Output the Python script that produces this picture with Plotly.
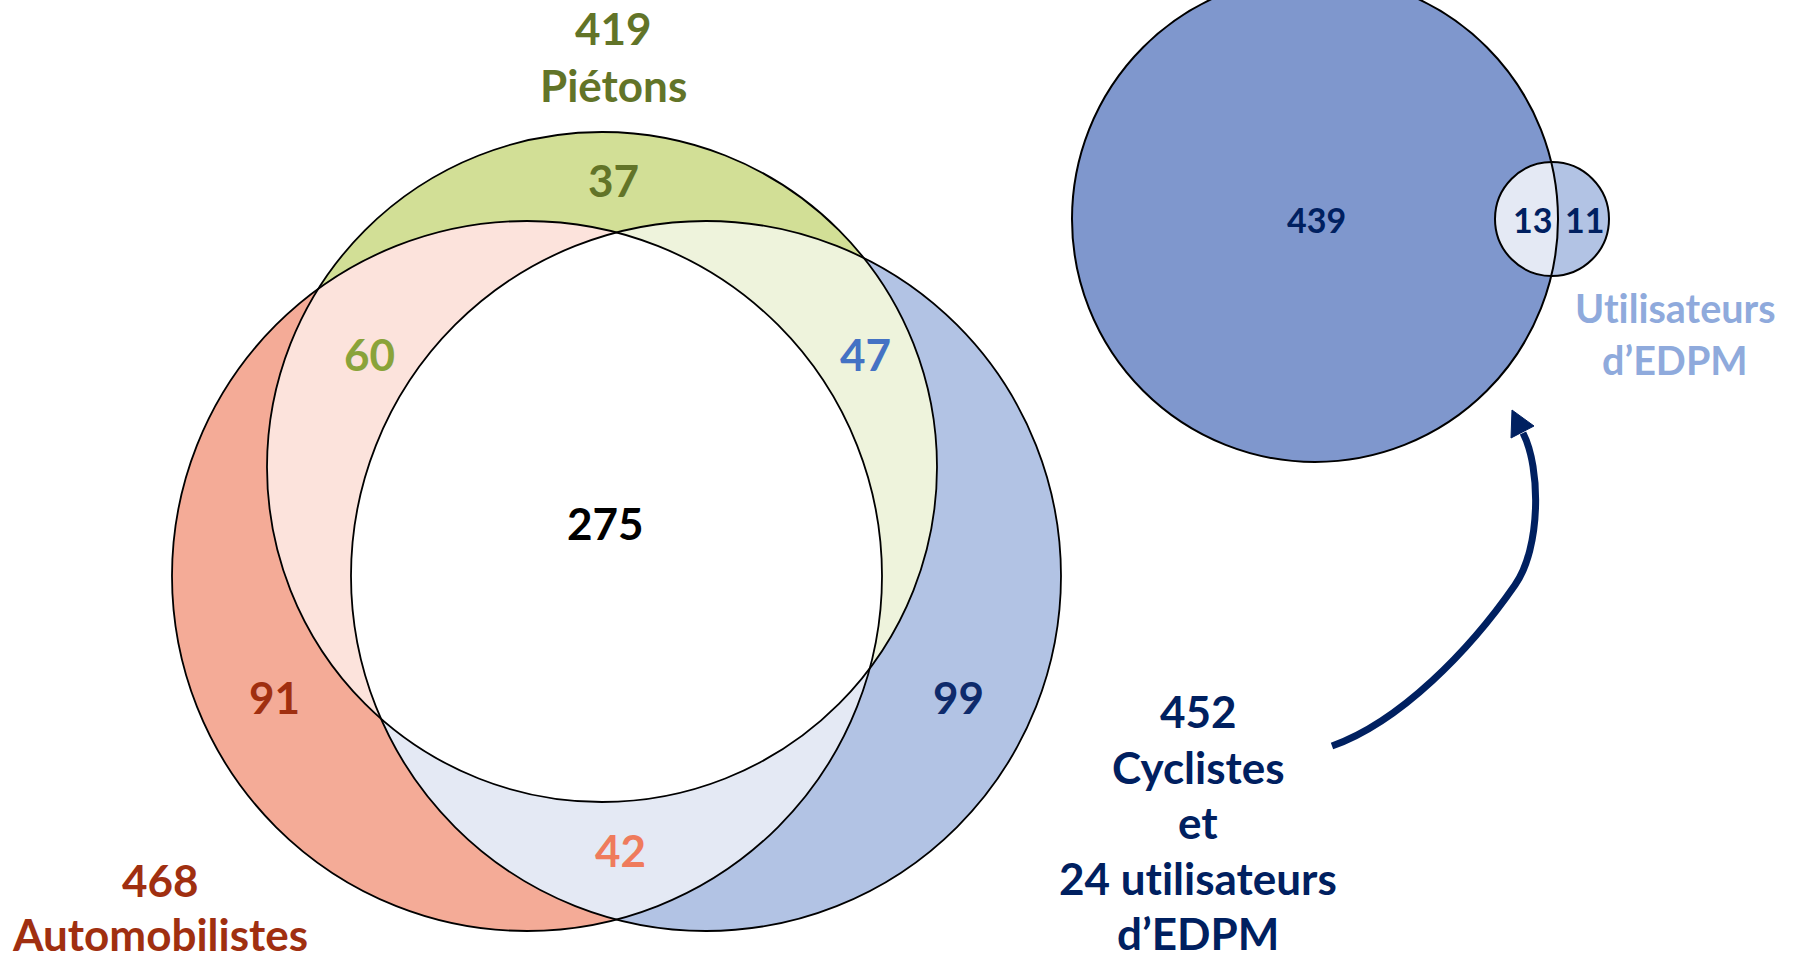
import numpy as np
import plotly.graph_objects as go

W, H = 1796, 960

# ---------------- data ----------------
groups = ["Automobilistes", "Piétons", "Cyclistes"]
group_totals = [468, 419, 452]
regions = ["A", "P", "C", "AP", "PC", "AC", "APC"]
region_counts = [91, 37, 99, 60, 47, 42, 275]
edpm_parts = ["Cyclistes seuls", "Cyclistes et EDPM", "EDPM seuls"]
edpm_counts = [439, 13, 11]
edpm_users = 24
edpm_title = ["Utilisateurs", "d’EDPM"]

# ---------------- layout / style ----------------
FONT = "Lato"
ZWNJ = "\u200c"  # avoid the Lato "ti" ligature
circles = {"A": (527, 576, 355), "P": (602, 467, 335), "C": (706, 576, 355)}
big = (1315, 219, 243)
small = (1552, 219, 57)

fill_single = {"A": "#F4AB97", "P": "#D2DF96", "C": "#B2C3E4"}
fill_pair = {"AP": "#FCE3DC", "PC": "#EEF3DC", "AC": "#E4E9F4", "APC": "#FFFFFF"}

region_pos = {"A": (274, 697), "P": (613, 180), "C": (958, 697),
              "AP": (369, 354), "PC": (865, 354), "AC": (620, 850), "APC": (605, 523)}
region_col = {"A": "#A02F10", "P": "#627428", "C": "#0E2A6B",
              "AP": "#8AA33A", "PC": "#4472C4", "AC": "#EF7B5C", "APC": "#000000"}

NAVY = "#002060"


def nolig(s):
    return s.replace("ti", "t" + ZWNJ + "i")


def circle_shape(c, fill="rgba(0,0,0,0)", line_color=None, lw=0):
    x, y, r = c
    return dict(type="circle", xref="x", yref="y", x0=x - r, x1=x + r, y0=y - r, y1=y + r,
                fillcolor=fill, line=dict(color=line_color or "rgba(0,0,0,0)", width=lw),
                layer="above")


def lens_path(cs, n=1440):
    pts = []
    t = np.linspace(0, 2 * np.pi, n, endpoint=False)
    for i, (x, y, r) in enumerate(cs):
        px = x + r * np.cos(t)
        py = y + r * np.sin(t)
        mask = np.ones(n, bool)
        for j, (x2, y2, r2) in enumerate(cs):
            if j != i:
                mask &= (px - x2) ** 2 + (py - y2) ** 2 <= (r2 + 0.01) ** 2
        pts += list(zip(px[mask], py[mask]))
    pts = np.array(pts)
    cx, cy = pts.mean(axis=0)
    order = np.argsort(np.arctan2(pts[:, 1] - cy, pts[:, 0] - cx))
    pts = pts[order]
    return "M " + " L ".join(f"{a:.2f},{b:.2f}" for a, b in pts) + " Z"


def path_shape(path, fill):
    return dict(type="path", xref="x", yref="y", path=path, fillcolor=fill,
                line=dict(width=0, color="rgba(0,0,0,0)"), layer="above")


shapes = []
for k in ["A", "C", "P"]:
    shapes.append(circle_shape(circles[k], fill=fill_single[k]))
for k in ["AP", "PC", "AC", "APC"]:
    shapes.append(path_shape(lens_path([circles[c] for c in k]), fill_pair[k]))
for k in ["A", "P", "C"]:
    shapes.append(circle_shape(circles[k], line_color="#000000", lw=1.8))

shapes.append(circle_shape(big, fill="#7F97CD"))
shapes.append(circle_shape(small, fill="#B2C3E4"))
shapes.append(path_shape(lens_path([big, small]), "#E4E9F4"))
shapes.append(circle_shape(big, line_color="#000000", lw=2))
shapes.append(circle_shape(small, line_color="#000000", lw=2))

shapes.append(dict(type="path", xref="x", yref="y",
                   path="M 1332,746 C 1400,722 1470,650 1515,585 C 1541,548 1541,468 1523,433",
                   line=dict(color=NAVY, width=7), layer="above"))
shapes.append(dict(type="path", xref="x", yref="y",
                   path="M 1512,410 L 1511,438 L 1534,426 Z",
                   fillcolor=NAVY, line=dict(color=NAVY, width=1), layer="above"))

ann = []


def text(x, y, s, color, size):
    ann.append(dict(x=x, y=y, xref="x", yref="y", text=f"<b>{nolig(s)}</b>", showarrow=False,
                    xanchor="center", yanchor="middle",
                    font=dict(family=FONT, size=size, color=color)))


BIG = 44
for k, v in zip(regions, region_counts):
    x, y = region_pos[k]
    text(x, y, f"{v}", region_col[k], BIG)

text(613, 28, f"{group_totals[1]}", "#627428", BIG)
text(613, 85, groups[1], "#627428", BIG)
text(160, 880, f"{group_totals[0]}", "#A02F10", BIG)
text(160, 934, groups[0], "#A02F10", BIG)

cyc_lines = [f"{group_totals[2]}", groups[2], "et", f"{edpm_users} utilisateurs", edpm_title[1]]
for i, s in enumerate(cyc_lines):
    text(1198, 711 + 55.5 * i, s, NAVY, BIG)

text(big[0] + 1, 219, f"{edpm_counts[0]}", NAVY, 34)
text(1532, 219, f"{edpm_counts[1]}", NAVY, 34)
text(1584, 219, f"{edpm_counts[2]}", NAVY, 34)
text(1675, 307, edpm_title[0], "#8FAADC", 39.5)
text(1675, 359, edpm_title[1], "#8FAADC", 39.5)

fig = go.Figure()
fig.add_trace(go.Scatter(x=[0, W], y=[0, H], mode="markers", marker=dict(opacity=0),
                         hoverinfo="skip", showlegend=False))
fig.update_layout(
    width=W, height=H, margin=dict(l=0, r=0, t=0, b=0),
    paper_bgcolor="white", plot_bgcolor="white",
    xaxis=dict(range=[0, W], visible=False, fixedrange=True),
    yaxis=dict(range=[H, 0], visible=False, fixedrange=True),
    shapes=shapes, annotations=ann, showlegend=False,
)
fig.write_html("out.html", config={"displayModeBar": False},
               post_script="document.body.style.margin='0';document.body.style.overflow='hidden';")
